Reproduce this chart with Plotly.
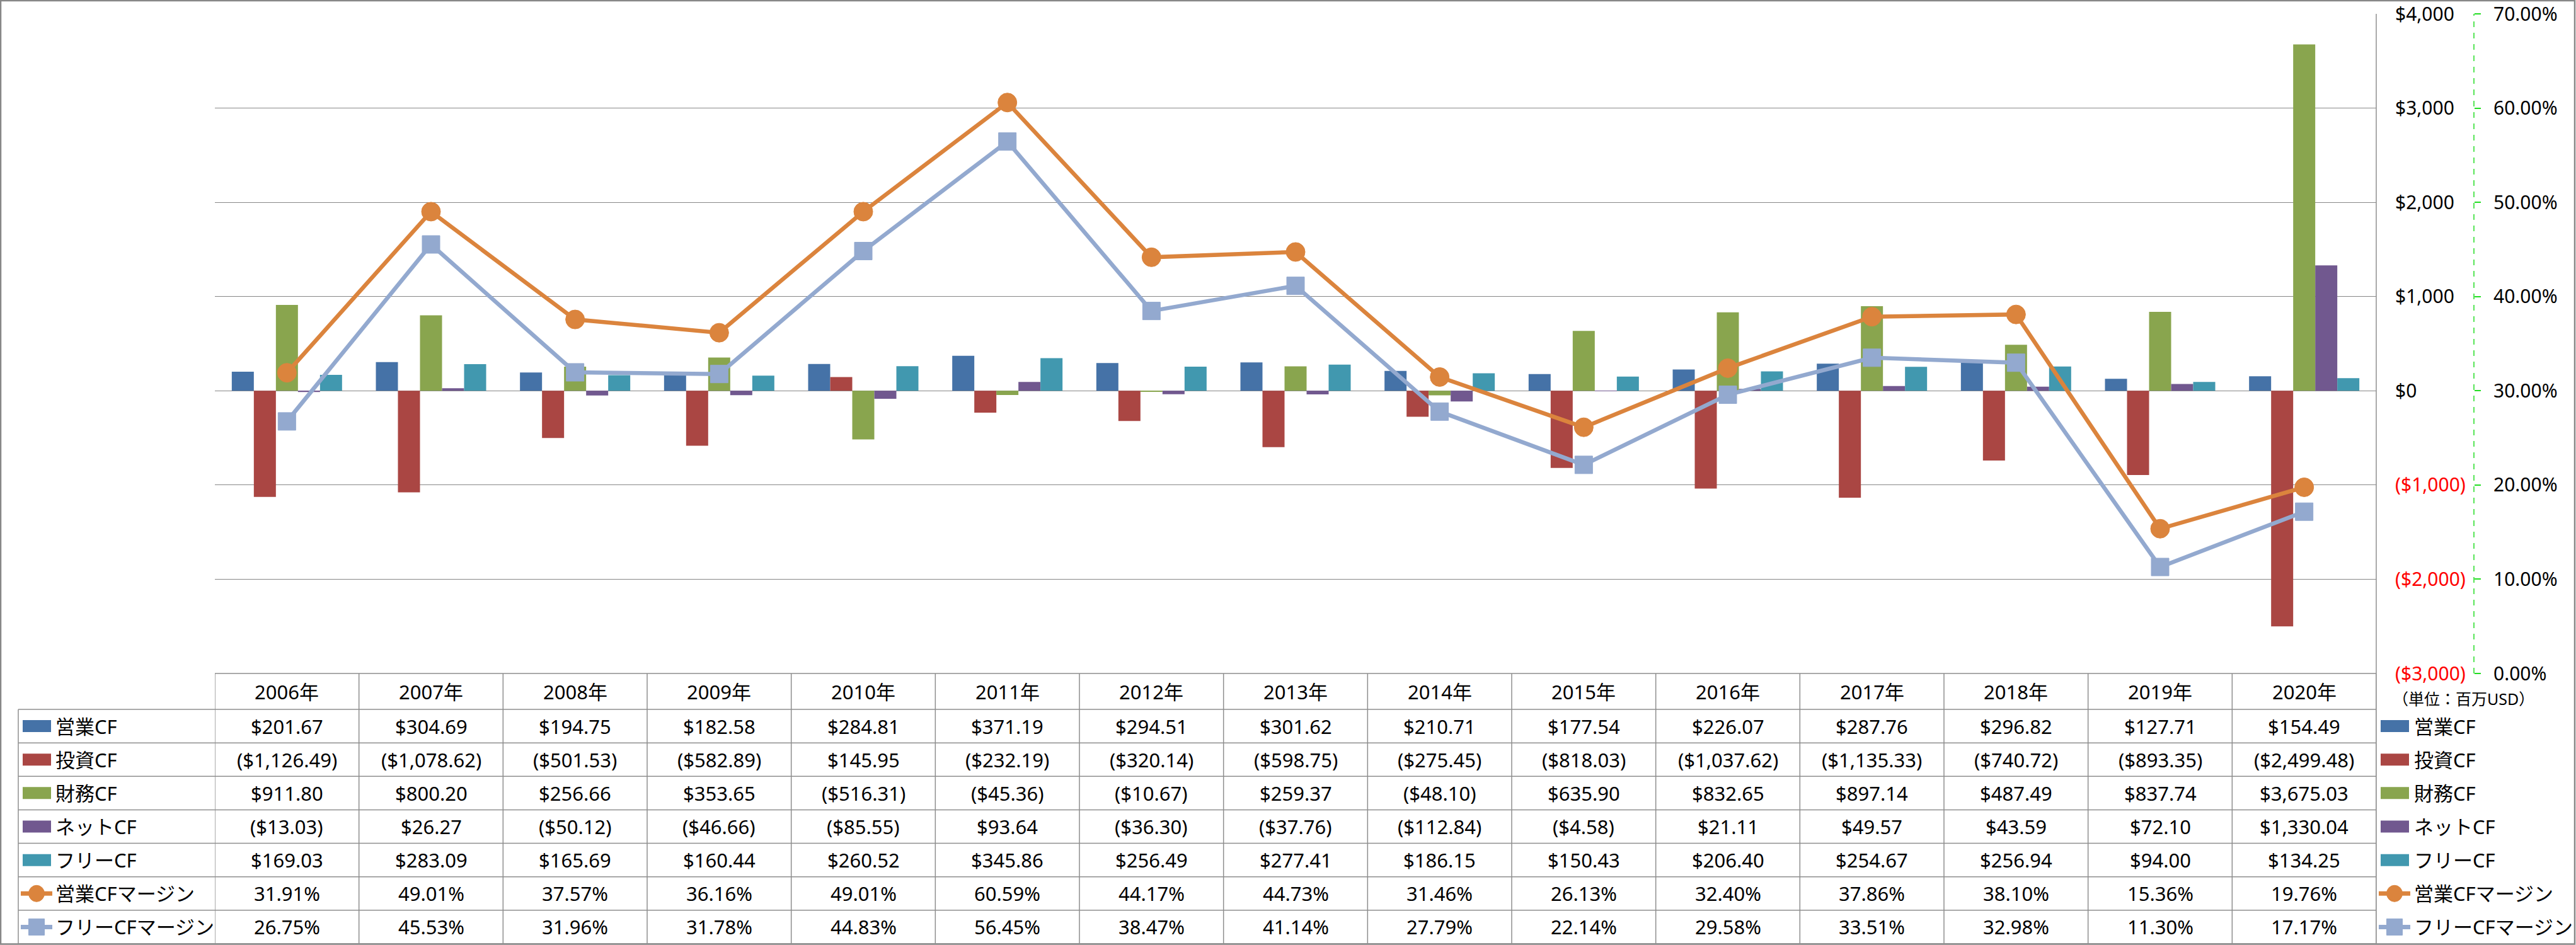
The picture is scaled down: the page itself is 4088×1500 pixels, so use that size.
import plotly.graph_objects as go

# ---------------- data ----------------
years = ["2006年", "2007年", "2008年", "2009年", "2010年", "2011年", "2012年", "2013年",
         "2014年", "2015年", "2016年", "2017年", "2018年", "2019年", "2020年"]
op_cf = [201.67, 304.69, 194.75, 182.58, 284.81, 371.19, 294.51, 301.62,
         210.71, 177.54, 226.07, 287.76, 296.82, 127.71, 154.49]
inv_cf = [-1126.49, -1078.62, -501.53, -582.89, 145.95, -232.19, -320.14, -598.75,
          -275.45, -818.03, -1037.62, -1135.33, -740.72, -893.35, -2499.48]
fin_cf = [911.80, 800.20, 256.66, 353.65, -516.31, -45.36, -10.67, 259.37,
          -48.10, 635.90, 832.65, 897.14, 487.49, 837.74, 3675.03]
net_cf = [-13.03, 26.27, -50.12, -46.66, -85.55, 93.64, -36.30, -37.76,
          -112.84, -4.58, 21.11, 49.57, 43.59, 72.10, 1330.04]
free_cf = [169.03, 283.09, 165.69, 160.44, 260.52, 345.86, 256.49, 277.41,
           186.15, 150.43, 206.40, 254.67, 256.94, 94.00, 134.25]
op_margin = [31.91, 49.01, 37.57, 36.16, 49.01, 60.59, 44.17, 44.73,
             31.46, 26.13, 32.40, 37.86, 38.10, 15.36, 19.76]
free_margin = [26.75, 45.53, 31.96, 31.78, 44.83, 56.45, 38.47, 41.14,
               27.79, 22.14, 29.58, 33.51, 32.98, 11.30, 17.17]

usd_ticks = [-3000, -2000, -1000, 0, 1000, 2000, 3000, 4000]
pct_ticks = [0, 10, 20, 30, 40, 50, 60, 70]
unit_label = "（単位：百万USD）"

bar_series = [
    ("営業CF", op_cf, "#4572A7"),
    ("投資CF", inv_cf, "#AA4643"),
    ("財務CF", fin_cf, "#89A54E"),
    ("ネットCF", net_cf, "#71588F"),
    ("フリーCF", free_cf, "#4198AF"),
]
line_series = [
    ("営業CFマージン", op_margin, "#DB843D", "circle"),
    ("フリーCFマージン", free_margin, "#93A9CF", "square"),
]

# ---------------- layout constants (pixels) ----------------
W, H = 4088, 1500
PLOT_L, PLOT_R, PLOT_T, PLOT_B = 341, 3771, 22, 1069
TABLE_L = 29
HEAD_B = 1126
ROW_H = 53.14
FONT = "Noto Sans, Noto Sans CJK JP, sans-serif"
GRID = "#878787"
TLINE = "#8E8E8E"


def px(x):
    return x / W


def py(y):
    return 1 - y / H


def fmt_usd(v):
    s = f"${abs(v):,.2f}"
    return f"({s})" if v < 0 else s


def fmt_usd_tick(v):
    s = f"${abs(v):,.0f}"
    return f"<span style='color:#FF0000'>({s})</span>" if v < 0 else s


def fmt_pct(v):
    return f"{v:.2f}%"


fig = go.Figure()

for name, vals, col in bar_series:
    fig.add_trace(go.Bar(x=years, y=vals, name=name, marker=dict(color=col, line=dict(width=0)),
                         yaxis="y", showlegend=False))

for name, vals, col, sym in line_series:
    fig.add_trace(go.Scatter(x=years, y=vals, name=name, mode="lines+markers", yaxis="y2",
                             line=dict(color=col, width=6.5),
                             marker=dict(symbol=sym, size=30 if sym == "circle" else 28, color=col,
                                         line=dict(color=col, width=1)),
                             showlegend=False))

shapes = []
annotations = []

# outer chart border
shapes.append(dict(type="rect", xref="paper", yref="paper", x0=px(1), x1=px(4086), y0=py(1498.5), y1=py(1),
                   line=dict(color=GRID, width=2.5), layer="above"))
# plot area right border continuing into table right border
shapes.append(dict(type="line", xref="paper", yref="paper", x0=px(PLOT_R), x1=px(PLOT_R),
                   y0=py(PLOT_T), y1=py(1498), line=dict(color=TLINE, width=1.5)))
# dashed green secondary axis line
shapes.append(dict(type="line", xref="paper", yref="y2", x0=px(3926), x1=px(3926), y0=0, y1=70,
                   line=dict(color="#22DD22", width=1.5, dash="dash")))

# table lines
n_rows = len(bar_series) + len(line_series)
row_tops = [HEAD_B + i * ROW_H for i in range(n_rows + 1)]
shapes.append(dict(type="line", xref="paper", yref="paper", x0=px(PLOT_L), x1=px(PLOT_R),
                   y0=py(PLOT_B), y1=py(PLOT_B), line=dict(color=TLINE, width=1.5)))
for yt in row_tops:
    shapes.append(dict(type="line", xref="paper", yref="paper", x0=px(TABLE_L), x1=px(PLOT_R),
                       y0=py(yt), y1=py(yt), line=dict(color=TLINE, width=1.5)))
for i in range(len(years) + 1):
    shapes.append(dict(type="line", xref="x", yref="paper", x0=i - 0.5, x1=i - 0.5,
                       y0=py(PLOT_B), y1=py(row_tops[-1]), line=dict(color=TLINE, width=1.5)))
shapes.append(dict(type="line", xref="paper", yref="paper", x0=px(TABLE_L), x1=px(TABLE_L),
                   y0=py(HEAD_B), y1=py(row_tops[-1]), line=dict(color=TLINE, width=1.5)))

txt_font = dict(family=FONT, size=31, color="#000000")

# header
for yr in years:
    annotations.append(dict(x=yr, xref="x", y=py((PLOT_B + HEAD_B) / 2), yref="paper", text=yr,
                            showarrow=False, xanchor="center", yanchor="middle", font=txt_font))

# rows
rows = [(n, v, c, "bar", fmt_usd) for n, v, c in bar_series] + \
       [(n, v, c, s, fmt_pct) for n, v, c, s in line_series]


def add_key(kind, color, cx_left, cy):
    if kind == "bar":
        shapes.append(dict(type="rect", xref="paper", yref="paper", x0=px(cx_left), x1=px(cx_left + 45),
                           y0=py(cy + 9.5), y1=py(cy - 9.5), line=dict(width=0), fillcolor=color))
    else:
        shapes.append(dict(type="line", xref="paper", yref="paper", x0=px(cx_left - 3), x1=px(cx_left + 47),
                           y0=py(cy), y1=py(cy), line=dict(color=color, width=7)))
        mx = cx_left + 22
        shapes.append(dict(type="circle" if kind == "circle" else "rect", xref="paper", yref="paper",
                           x0=px(mx - 12.5), x1=px(mx + 12.5), y0=py(cy + 13), y1=py(cy - 13),
                           line=dict(color=color, width=1), fillcolor=color))


for r, (name, vals, col, kind, fmt) in enumerate(rows):
    cy = row_tops[r] + ROW_H / 2
    for yr, v in zip(years, vals):
        annotations.append(dict(x=yr, xref="x", y=py(cy), yref="paper", text=fmt(v), showarrow=False,
                                xanchor="center", yanchor="middle", font=txt_font))
    # left column legend
    add_key(kind, col, 36, cy)
    annotations.append(dict(x=px(86), xref="paper", y=py(cy), yref="paper", text=name, showarrow=False,
                            xanchor="left", yanchor="middle", font=txt_font))
    # right legend
    add_key(kind, col, 3778, cy)
    annotations.append(dict(x=px(3829), xref="paper", y=py(cy), yref="paper", text=name, showarrow=False,
                            xanchor="left", yanchor="middle", font=txt_font))

annotations.append(dict(x=px(3795), xref="paper", y=py(1109), yref="paper", text=unit_label,
                        showarrow=False, xanchor="left", yanchor="middle",
                        font=dict(family=FONT, size=25, color="#000000")))

fig.update_layout(
    template="none",
    width=W, height=H, autosize=False,
    margin=dict(l=0, r=0, t=0, b=0, pad=0, autoexpand=False),
    paper_bgcolor="#FFFFFF", plot_bgcolor="#FFFFFF",
    barmode="group", bargap=0.2347, bargroupgap=0,
    font=dict(family=FONT, size=30, color="#000000"),
    xaxis=dict(domain=[px(PLOT_L), px(PLOT_R)], type="category", range=[-0.5, len(years) - 0.5],
               showticklabels=False, showgrid=False, zeroline=False, showline=False, ticks="",
               automargin=False),
    yaxis=dict(domain=[py(PLOT_B), py(PLOT_T)], range=[usd_ticks[0], usd_ticks[-1]],
               tickmode="array", tickvals=usd_ticks, ticktext=[fmt_usd_tick(v) for v in usd_ticks],
               showgrid=True, gridcolor=GRID, gridwidth=1.3, zeroline=False, showline=False, ticks="",
               side="right", anchor="free", position=px(3800), automargin=False,
               tickfont=dict(family=FONT, size=30, color="#000000")),
    yaxis2=dict(overlaying="y", range=[pct_ticks[0], pct_ticks[-1]], tickmode="array",
                tickvals=pct_ticks, ticktext=[fmt_pct(v) for v in pct_ticks],
                showgrid=False, zeroline=False, showline=False, ticks="outside", ticklen=10,
                tickcolor="#22DD22", tickwidth=1.5, side="right", anchor="free", position=px(3926),
                ticklabelstandoff=14, automargin=False,
                tickfont=dict(family=FONT, size=30, color="#000000")),
    shapes=shapes,
    annotations=annotations,
)

fig.write_html("out.html", config={"displayModeBar": False})
